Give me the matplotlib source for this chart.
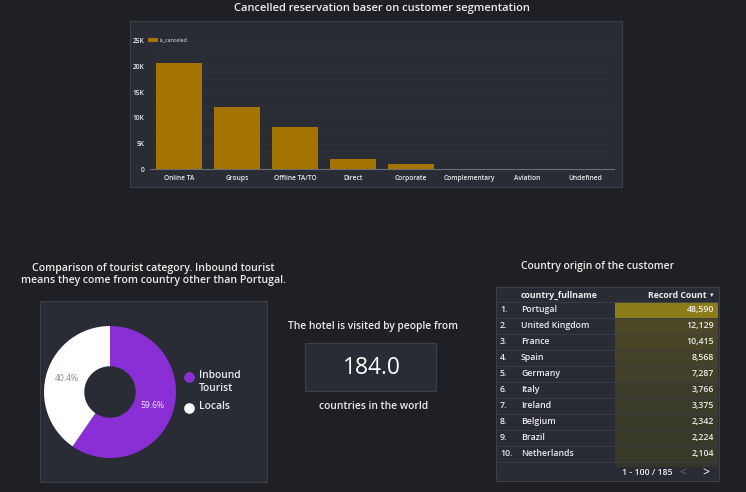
import numpy as np
import matplotlib
matplotlib.use("Agg")
import matplotlib.pyplot as plt
from matplotlib.patches import Rectangle
from matplotlib.colors import to_rgb

plt.rcParams['font.family'] = ['Open Sans', 'DejaVu Sans']

# data
segments = ['Online TA', 'Groups', 'Offline TA/TO', 'Direct', 'Corporate',
            'Complementary', 'Aviation', 'Undefined']
cancelled = [20739, 12097, 8311, 1934, 992, 97, 52, 2]
ytick_vals = [0, 5000, 10000, 15000, 20000, 25000]
ytick_labels = ['0', '5K', '10K', '15K', '20K', '25K']

tourist_labels = ['Inbound\nTourist', 'Locals']
tourist_share = [59.6, 40.4]

countries = ['Portugal', 'United Kingdom', 'France', 'Spain', 'Germany',
             'Italy', 'Ireland', 'Belgium', 'Brazil', 'Netherlands']
record_count = [48590, 12129, 10415, 8568, 7287, 3766, 3375, 2342, 2224, 2104]
n_countries = 184.0
total_rows = 185

BG = '#1f2024'
PANEL = '#2a2c35'
EDGE = '#3c3e48'
GOLD = '#a37500'
PURPLE = '#8a2fd6'
TXT = '#ececec'

W, H = 746, 492
fig = plt.figure(figsize=(W / 100, H / 100), dpi=100, facecolor=BG)


def px_axes(x0, y0, x1, y1):
    # axes from pixel box (top-left origin)
    return fig.add_axes([x0 / W, 1 - y1 / H, (x1 - x0) / W, (y1 - y0) / H])


bg = fig.add_axes([0, 0, 1, 1])
bg.set_xlim(0, W)
bg.set_ylim(H, 0)
bg.axis('off')
bg.set_facecolor(BG)

# panels
for (x0, y0, x1, y1) in [(130, 21, 622, 187), (40, 301, 267, 482),
                         (305, 343, 436, 391), (496, 287, 719, 481)]:
    bg.add_patch(Rectangle((x0, y0), x1 - x0, y1 - y0, facecolor=PANEL,
                           edgecolor=EDGE, lw=0.8))

# bar chart
bg.text(382, 8, 'Cancelled reservation baser on customer segmentation',
        ha='center', va='center', color=TXT, fontsize=8, fontweight='semibold')
ax = px_axes(150, 40.7, 614, 169.3)
ax.set_facecolor('none')
x = np.arange(len(segments))
bars = ax.bar(x, cancelled, width=0.79, color=GOLD, label='is_canceled', zorder=3)
ax.set_xlim(-0.5, len(segments) - 0.5)
ax.set_ylim(0, 25000)
ax.set_yticks(ytick_vals)
ax.set_yticklabels(ytick_labels, fontweight='semibold')
ax.set_yticks(np.arange(2500, 25000, 5000), minor=True)
ax.set_xticks(x)
ax.set_xticklabels(segments, fontweight='semibold')
ax.tick_params(axis='both', length=0, labelsize=4.8, colors=TXT, pad=4)
ax.tick_params(axis='y', which='minor', length=0)
ax.grid(axis='y', which='both', color='#31333c', lw=0.5, zorder=0)
for s in ['top', 'right', 'left']:
    ax.spines[s].set_visible(False)
ax.spines['bottom'].set_color('#6a6d75')
ax.spines['bottom'].set_linewidth(0.8)
ax.legend(loc='lower left', bbox_to_anchor=(-0.005, 0.985), frameon=False,
          fontsize=3.8, labelcolor=TXT, handlelength=2.0, handleheight=0.9,
          handletextpad=0.3, borderaxespad=0, borderpad=0)

# pie chart
bg.text(153, 274.5, 'Comparison of tourist category. Inbound tourist\n'
        'means they come from country other than Portugal.',
        ha='center', va='center', color=TXT, fontsize=7.6, linespacing=1.15,
        fontweight='semibold')
pax = px_axes(110 - 66, 392 - 66, 110 + 66, 392 + 66)
wedges, _, autotexts = pax.pie(tourist_share, colors=[PURPLE, 'white'],
                               startangle=90, counterclock=False,
                               autopct='%1.1f%%', pctdistance=0.68,
                               wedgeprops=dict(width=0.61, linewidth=0))
autotexts[0].set_color('#f0e8ff')
autotexts[1].set_color('#8a8a8a')
for t in autotexts:
    t.set_fontsize(6.2)
pax.set_xlim(-1, 1)
pax.set_ylim(-1, 1)
pax.set_aspect('equal')
legend_y = [377, 408]
for lab, col, yy in zip(tourist_labels, [PURPLE, 'white'], legend_y):
    bg.scatter([189], [yy], s=44, color=col, zorder=5)
    bg.text(199, yy - 7, lab, ha='left', va='top', color=TXT,
            fontsize=7.4, linespacing=1.3, fontweight='semibold')

# kpi
bg.text(373, 327, 'The hotel is visited by people from', ha='center',
        va='center', color=TXT, fontsize=7.4, fontweight='semibold')
bg.text(372, 368, f'{n_countries:.1f}', ha='center', va='center',
        color='white', fontsize=16.5)
bg.text(374, 406.5, 'countries in the world', ha='center', va='center',
        color=TXT, fontsize=7.4, fontweight='semibold')

# table
bg.text(598, 267, 'Country origin of the customer', ha='center', va='center',
        color=TXT, fontsize=7.4, fontweight='semibold')
bg.text(521, 295, 'country_fullname', ha='left', va='center', color=TXT,
        fontsize=6.3, fontweight='bold')
bg.text(707, 295, 'Record Count', ha='right', va='center', color=TXT,
        fontsize=6.3, fontweight='bold')
bg.text(710, 295.5, '\u25be', ha='left', va='center', color=TXT,
        fontsize=5, family=['DejaVu Sans'])
col_x0, col_x1 = 615, 718
base = np.array(to_rgb('#35362b'))
hot = np.array(to_rgb('#8c7c1a'))
vmax = max(record_count)
row_h = 16
for i, (c, v) in enumerate(zip(countries, record_count)):
    yc = 309.7 + i * row_h
    f = v / vmax
    colr = base + (hot - base) * f
    bg.add_patch(Rectangle((col_x0, yc - row_h / 2), col_x1 - col_x0, row_h,
                           facecolor=colr, edgecolor='none'))
    bg.plot([497, 718], [yc + row_h / 2, yc + row_h / 2], color='#3b3d47',
            lw=0.6)
    bg.text(500, yc, f'{i + 1}.', ha='left', va='center', color=TXT,
            fontsize=6.3, fontweight='semibold')
    bg.text(521, yc, c, ha='left', va='center', color=TXT, fontsize=6.3,
            fontweight='semibold')
    bg.text(714, yc, f'{v:,}', ha='right', va='center', color=TXT,
            fontsize=6.3, fontweight='semibold')
bg.plot([497, 718], [301.7, 301.7], color='#3b3d47', lw=0.6)
# partially hidden next row
bg.add_patch(Rectangle((col_x0, 309.7 + 9.5 * row_h), col_x1 - col_x0, 5,
                       facecolor=base, edgecolor='none'))
bg.add_patch(Rectangle((497, 468), 221, 12.5, facecolor=PANEL,
                       edgecolor='none', zorder=4))
bg.text(647, 472.5, f'1 - 100 / {total_rows}', ha='center', va='center',
        color=TXT, fontsize=6.3, zorder=5, fontweight='semibold')
bg.text(683, 473, '<', ha='center', va='center', color='#666870',
        fontsize=9, zorder=5)
bg.text(706, 473, '>', ha='center', va='center', color='white',
        fontsize=9, zorder=5)

fig.savefig('out.png', dpi=100, facecolor=BG)
